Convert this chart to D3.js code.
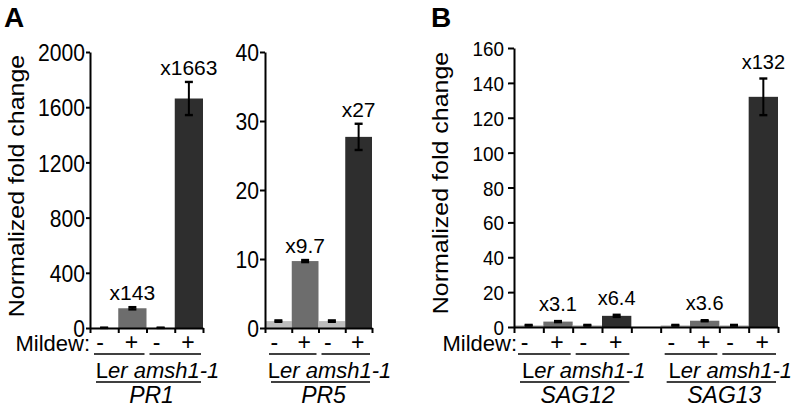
<!DOCTYPE html>
<html><head><meta charset="utf-8">
<script src="https://cdn.jsdelivr.net/npm/d3@7"></script>
<style>
body{margin:0;background:#fff}
svg{display:block}
text{font-family:"Liberation Sans",Arial,Helvetica,sans-serif;fill:#000}
</style>
</head><body>
<svg id="c" width="796" height="409"></svg>
<script>
// ---- data ----
const mildewSigns = ["-", "+", "-", "+"];
const genotypes = ["Ler", "amsh1-1"];
const genes = ["PR1", "PR5", "SAG12", "SAG13"];
const yTitle = "Normalized fold change";
const mildewTitle = "Mildew:";
const panelLetters = ["A", "B"];

const pr1Values = [1, 143, 1, 1663];
const pr1Errors = [0.5, 8, 0.5, 120];
const pr1Labels = ["", "x143", "", "x1663"];
const pr1Ticks = [0, 400, 800, 1200, 1600, 2000];

const pr5Values = [1.0, 9.7, 1.0, 27.7];
const pr5Errors = [0.1, 0.15, 0.1, 1.9];
const pr5Labels = ["", "x9.7", "", "x27"];
const pr5Ticks = [0, 10, 20, 30, 40];

const sag12Values = [1.0, 3.1, 1.0, 6.4];
const sag12Errors = [0.2, 0.3, 0.2, 0.6];
const sag12Labels = ["", "x3.1", "", "x6.4"];

const sag13Values = [1.0, 3.6, 1.0, 132];
const sag13Errors = [0.2, 0.3, 0.2, 10.5];
const sag13Labels = ["", "x3.6", "", "x132"];

const sagTicks = [0, 20, 40, 60, 80, 100, 120, 140, 160];

// ---- styles ----
const barFill = ["#bdbdbd", "#6d6d6d", "#bdbdbd", "#2e2e2e"];
const FONT = '"Liberation Sans",Arial,Helvetica,sans-serif';

const svg = d3.select("#c");

function panel(o) {
  const y = d3.scaleLinear().domain([0, o.max]).range([o.yBot, o.yTop]);
  const xl = d3.scaleLinear().domain([0, o.n]).range([o.x0, o.x1]);
  const xb = d3.scaleBand().domain(d3.range(o.n)).range([o.x0, o.x1]).paddingInner(0).paddingOuter(0);
  const bw = xb.bandwidth();
  const g = svg.append("g");

  // bars
  o.groups.forEach(gr => {
    gr.values.forEach((v, i) => {
      const k = gr.start + i;
      g.append("rect")
        .attr("x", xb(k)).attr("width", bw)
        .attr("y", y(v)).attr("height", y(0) - y(v))
        .attr("fill", barFill[i]);
    });
  });

  // error bars
  o.groups.forEach(gr => {
    gr.values.forEach((v, i) => {
      const e = gr.errors[i];
      const cx = xb(gr.start + i) + bw / 2;
      const eg = g.append("g").attr("stroke", "#000").attr("stroke-width", 2);
      eg.append("line").attr("x1", cx).attr("x2", cx).attr("y1", y(v + e)).attr("y2", y(Math.max(0, v - e)));
      [v + e, Math.max(0, v - e)].forEach(t => {
        eg.append("line").attr("x1", cx - 4).attr("x2", cx + 4).attr("y1", y(t)).attr("y2", y(t)).attr("stroke-width", 2.4);
      });
    });
  });

  // y axis
  const ya = g.append("g").attr("transform", `translate(${o.x0},0)`)
    .call(d3.axisLeft(y).tickValues(o.ticks).tickFormat(d3.format("d"))
      .tickSize(o.tickLen).tickSizeOuter(0).tickPadding(o.tickPad));
  ya.select(".domain").attr("stroke", "#000").attr("stroke-width", 2);
  ya.selectAll(".tick line").attr("stroke", "#000").attr("stroke-width", 2);
  ya.selectAll(".tick text")
    .attr("font-family", FONT).attr("font-size", o.tickFont).attr("fill", "#000")
    .attr("x", null).attr("dy", "0.36em")
    .attr("transform", `translate(${-(o.tickLen + o.tickPad)},0) scale(${o.tickScale},1)`);

  // x axis (baseline with band-boundary ticks)
  const xa = g.append("g").attr("transform", `translate(0,${o.yBot})`)
    .call(d3.axisBottom(xl).tickValues(d3.range(o.n + 1)).tickSize(o.xTick).tickSizeOuter(0).tickFormat(""));
  xa.select(".domain").attr("stroke", "#000").attr("stroke-width", 2);
  xa.selectAll(".tick line").attr("stroke", "#000").attr("stroke-width", 2);

  // value labels
  o.groups.forEach(gr => {
    gr.labels.forEach((lab, i) => {
      if (!lab) return;
      const v = gr.values[i], e = gr.errors[i];
      g.append("text")
        .attr("x", xb(gr.start + i) + bw / 2)
        .attr("y", y(v + e) - o.labelGap)
        .attr("text-anchor", "middle")
        .attr("font-size", o.valueFont)
        .text(lab);
    });
  });

  // mildew signs
  o.groups.forEach(gr => {
    mildewSigns.forEach((s, i) => {
      const cx = xb(gr.start + i) + bw / 2 + (s === "-" ? -4 : -1);
      g.append("text").attr("x", cx).attr("y", 350)
        .attr("text-anchor", "middle").attr("font-size", 23).text(s);
    });
  });

  // group lines and labels
  o.groups.forEach(gr => {
    const s = gr.start;
    g.append("line").attr("x1", xl(s) + 4).attr("x2", xl(s + 2) - 2)
      .attr("y1", 354).attr("y2", 354).attr("stroke", "#000").attr("stroke-width", 1.6);
    g.append("line").attr("x1", xl(s + 2) + 3).attr("x2", xl(s + 4) - 2)
      .attr("y1", 354).attr("y2", 354).attr("stroke", "#000").attr("stroke-width", 1.6);
    g.append("line").attr("x1", xl(s) + 6).attr("x2", xl(s + 4) - 2)
      .attr("y1", 382).attr("y2", 382).attr("stroke", "#000").attr("stroke-width", 1.6);
    const mid = (xl(s) + xl(s + 4)) / 2;
    const t = g.append("text").attr("x", mid + 11).attr("y", 378)
      .attr("text-anchor", "middle").attr("font-size", 22);
    t.append("tspan").text(genotypes[0].slice(0, 1));
    t.append("tspan").attr("font-style", "italic").text(genotypes[0].slice(1));
    t.append("tspan").text(" ");
    t.append("tspan").attr("font-style", "italic").text(genotypes[1]);
    g.append("text").attr("x", mid + 5).attr("y", 403)
      .attr("text-anchor", "middle").attr("font-size", 23).attr("font-style", "italic")
      .text(gr.gene);
  });

  if (o.mildewX != null) {
    g.append("text").attr("x", o.mildewX).attr("y", 351)
      .attr("text-anchor", "end").attr("font-size", 22).text(mildewTitle);
  }
}

panel({
  x0: 90, x1: 203, yTop: 52, yBot: 328, max: 2000, n: 4, ticks: pr1Ticks,
  tickLen: 4, tickPad: 1, tickFont: 24, tickScale: 0.88, xTick: 5,
  valueFont: 21, labelGap: 7, mildewX: 90,
  groups: [{start: 0, values: pr1Values, errors: pr1Errors, labels: pr1Labels, gene: genes[0]}]
});

panel({
  x0: 265, x1: 372, yTop: 52, yBot: 328, max: 40, n: 4, ticks: pr5Ticks,
  tickLen: 5, tickPad: 1, tickFont: 24, tickScale: 0.88, xTick: 5,
  valueFont: 21, labelGap: 7, mildewX: null,
  groups: [{start: 0, values: pr5Values, errors: pr5Errors, labels: pr5Labels, gene: genes[1]}]
});

panel({
  x0: 514, x1: 778, yTop: 48, yBot: 327, max: 160, n: 9, ticks: sagTicks,
  tickLen: 6, tickPad: 4, tickFont: 21, tickScale: 0.9, xTick: 6,
  valueFont: 20, labelGap: 10, mildewX: 517,
  groups: [
    {start: 0, values: sag12Values, errors: sag12Errors, labels: sag12Labels, gene: genes[2]},
    {start: 5, values: sag13Values, errors: sag13Errors, labels: sag13Labels, gene: genes[3]}
  ]
});

// y titles
[[23.5, 186], [447.5, 183]].forEach(([x, yc]) => {
  svg.append("text")
    .attr("transform", `translate(${x},${yc}) scale(0.85,1) rotate(-90)`)
    .attr("text-anchor", "middle").attr("font-size", 25).text(yTitle);
});

// panel letters
[[4, 27], [431, 27]].forEach(([x, y], i) => {
  svg.append("text").attr("x", x).attr("y", y)
    .attr("font-size", 28).attr("font-weight", "bold").text(panelLetters[i]);
});
</script>
</body></html>
